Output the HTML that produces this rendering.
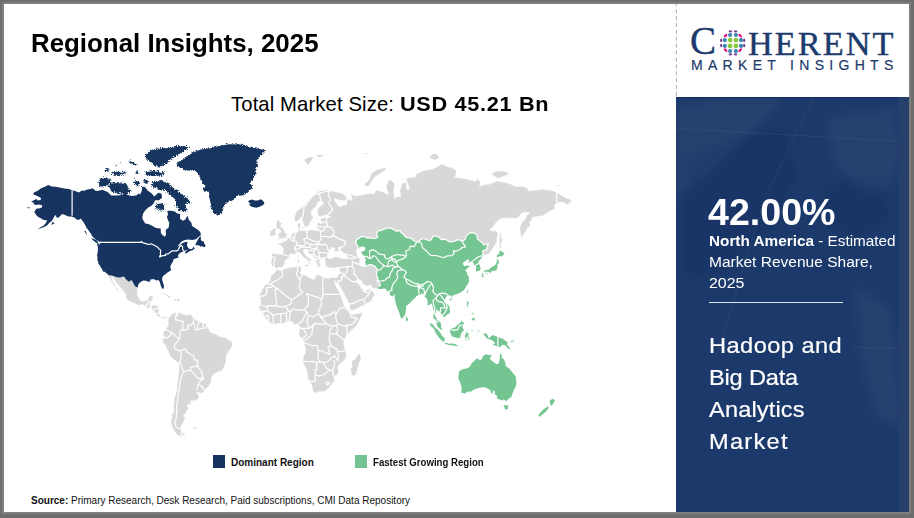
<!DOCTYPE html>
<html><head><meta charset="utf-8">
<style>
html,body{margin:0;padding:0;}
body{width:914px;height:518px;overflow:hidden;background:#6d6d6d;position:relative;font-family:"Liberation Sans",sans-serif;}
.abs{position:absolute;white-space:nowrap;}
#frame{position:absolute;left:2px;top:2px;width:909px;height:512px;background:#7f7f7f;}
#content{position:absolute;left:4px;top:4px;width:905px;height:508px;background:#fff;overflow:hidden;}
#dash{position:absolute;left:672px;top:0;width:0;height:93px;border-left:1px dashed #b0b0b0;}
#panel{position:absolute;left:672px;top:93px;width:233px;height:415px;background:#1b396a;overflow:hidden;}
#strip{position:absolute;left:223px;top:0;width:10px;height:415px;background:#263f6b;}
.t{position:absolute;white-space:nowrap;transform-origin:0 0;}
</style></head>
<body>
<div id="frame"></div>
<div id="content">
  <svg width="3" height="93" style="position:absolute;left:671px;top:0"><line x1="1.4" y1="0" x2="1.4" y2="93" stroke="#b4b4b4" stroke-width="1.1" stroke-dasharray="4 2.9" stroke-dashoffset="1.7"/></svg>
  <div id="panel">
    <svg width="233" height="415" style="position:absolute;left:0;top:0">
      <defs><filter id="pb" x="-20%" y="-20%" width="140%" height="140%"><feGaussianBlur stdDeviation="4"/></filter></defs>
      <g fill="#ffffff" fill-opacity="0.04" filter="url(#pb)">
        <path d="M0 10 L50 0 L110 0 L70 40 L30 80 L0 100Z"/>
        <path d="M150 20 L220 10 L225 60 L215 90 L190 95 L160 70Z"/>
        <path d="M180 190 L215 210 L222 270 L225 330 L200 320 L185 260Z"/>
      </g>
      <g fill="#000a30" fill-opacity="0.08" filter="url(#pb)">
        <path d="M10 60 L60 40 L110 30 L120 80 L95 130 L50 170 L10 185Z"/>
        <path d="M150 90 L200 80 L215 120 L180 140 L150 125Z"/>
      </g>
      <g stroke="#ffffff" stroke-opacity="0.06" stroke-width="1" fill="none">
        <path d="M0 31.4 L233 44.9"/>
        <path d="M138 0 L89 100 L40 260"/>
        <path d="M176 250 L233 252"/>
      </g>
      <rect x="0" y="0" width="233" height="1" fill="#102a5a"/>
    </svg>
    <div id="strip"></div>
  </div>
</div>
<svg width="914" height="518" viewBox="0 0 914 518" style="position:absolute;left:0;top:0">
<path fill="#d8d8d8" stroke="#fff" stroke-width="0.7" d="M276.5 268.7L275.5 267.8L273.8 266.4L271.6 266.8L271.7 264.5L270.7 263.3L271.4 260.9L271.9 257.9L271.6 255.9L271.0 254.9L272.9 253.5L275.9 253.7L279.0 254.1L282.3 254.1L283.0 251.8L283.2 248.7L281.7 246.3L279.7 245.1L277.9 244.4L278.1 243.1L280.5 242.7L282.6 242.9L282.1 240.7L283.2 240.8L283.3 241.4L285.3 241.2L285.8 240.3L287.4 239.6L287.4 238.1L288.8 237.6L290.4 237.0L291.0 235.8L292.1 233.6L293.3 232.7L295.6 232.4L297.1 232.0L298.1 231.3L298.4 229.9L298.0 227.6L297.2 225.2L298.0 223.7L301.0 222.3L300.6 225.2L300.1 227.6L300.3 229.9L301.6 231.1L303.9 230.1L306.1 231.3L308.4 230.6L310.7 229.4L312.9 229.7L314.6 230.1L316.9 227.1L316.7 225.2L317.6 222.8L319.1 222.2L320.5 224.0L321.4 224.0L321.8 221.6L320.5 220.3L320.3 218.6L322.3 217.9L325.0 217.6L327.3 217.9L330.6 216.9L328.8 216.1L326.5 215.3L323.5 215.8L319.7 216.9L318.2 215.3L317.3 212.8L317.5 209.4L319.0 207.3L322.0 204.6L323.5 203.5L322.0 201.3L319.0 201.3L317.2 204.0L316.0 206.7L313.7 208.3L311.9 210.7L311.1 214.1L311.9 215.3L313.2 216.6L312.9 218.4L311.4 220.3L310.1 222.8L309.5 225.4L306.9 226.4L306.1 227.8L304.5 227.6L304.2 225.9L303.0 222.5L301.9 219.6L301.2 216.9L300.1 219.1L298.6 220.1L297.1 221.6L294.8 221.1L294.1 219.1L294.7 216.1L295.6 213.6L296.8 211.0L299.9 208.9L303.0 206.5L306.0 202.9L309.0 199.1L312.5 195.9L316.0 192.4L320.0 190.7L325.0 189.8L331.1 190.4L336.0 191.8L341.9 193.0L345.4 195.6L347.2 198.5L345.4 200.2L342.4 200.7L337.9 199.9L334.8 198.8L334.1 200.2L337.1 203.5L337.9 205.4L340.9 206.7L342.4 204.9L346.2 204.9L346.9 201.3L348.4 199.3L351.4 199.9L352.2 200.7L350.7 193.6L352.2 194.2L354.5 195.6L357.5 195.6L365.0 194.2L367.3 193.6L371.1 193.6L374.1 193.9L376.4 189.8L381.6 191.2L386.2 193.6L388.4 194.5L386.9 189.2L385.9 186.7L387.7 181.4L389.9 179.8L391.5 180.5L394.5 183.0L394.9 186.1L393.7 190.7L394.5 198.5L396.7 196.5L400.5 196.5L399.8 190.7L402.0 183.0L406.6 182.1L406.6 189.2L409.6 189.2L405.8 178.2L416.4 176.6L415.6 173.9L423.9 170.5L433.0 168.8L442.5 163.8L446.6 166.3L452.6 167.7L456.4 170.5L455.6 176.6L454.1 177.2L463.2 178.2L470.7 179.8L475.3 181.4L477.5 178.5L480.5 182.1L479.8 186.1L484.3 184.6L488.9 184.3L494.9 181.7L497.9 180.8L503.9 182.1L511.5 184.3L515.3 186.4L522.1 186.1L526.6 187.6L528.9 190.7L534.1 190.1L538.7 189.8L542.5 188.9L546.2 189.8L550.8 190.1L554.5 191.2L556.8 192.4L559.8 194.2L565.1 197.4L568.9 198.8L572.4 200.5L569.6 202.7L567.4 204.9L564.4 202.9L560.6 202.1L556.8 203.5L554.5 204.9L555.3 208.9L552.3 210.2L547.7 212.5L543.2 215.8L538.7 216.6L534.1 217.1L531.9 217.9L531.9 220.3L529.6 222.1L530.4 225.7L528.1 227.6L526.6 229.9L524.3 233.4L521.6 237.9L520.6 234.5L519.8 229.9L520.0 226.4L522.1 222.1L525.8 218.4L526.6 215.3L529.6 212.8L526.6 212.3L522.1 212.8L519.0 216.6L517.5 218.4L513.8 218.6L510.0 217.9L504.7 218.4L500.2 219.1L497.2 221.6L494.1 225.2L491.9 228.7L489.6 229.7L492.6 231.1L495.6 230.6L497.9 232.2L498.2 234.5L497.2 237.9L497.0 242.3L494.9 245.5L492.6 249.1L489.6 253.2L485.8 255.3L483.6 254.9L482.4 256.3L480.8 258.9L478.3 261.3L479.0 263.9L480.4 266.8L480.4 269.7L479.8 270.5L477.5 271.2L475.9 271.6L476.0 269.7L476.3 266.8L475.3 265.5L474.1 264.9L473.3 263.3L472.7 261.1L470.7 261.5L468.8 262.7L468.0 263.3L469.1 260.9L469.5 259.9L467.7 259.3L465.4 261.1L463.2 262.5L462.7 263.9L463.9 265.5L465.0 266.4L467.0 265.6L470.0 266.0L468.5 267.2L466.7 268.7L465.1 270.7L466.7 272.0L467.6 275.2L469.1 276.9L468.6 278.5L469.2 280.4L468.5 282.8L467.0 285.0L465.7 287.3L464.4 289.5L461.7 291.8L459.4 293.0L457.1 293.9L454.9 294.8L452.6 295.5L451.6 297.3L450.6 295.3L448.8 295.2L446.6 296.2L445.8 297.6L444.6 299.9L446.0 302.7L448.4 304.9L449.6 307.5L450.0 310.9L449.6 313.0L447.3 314.5L446.1 315.5L443.7 317.6L443.2 315.9L442.8 314.5L441.3 314.2L440.4 312.5L439.2 311.1L437.4 310.6L436.8 309.2L436.0 309.6L435.8 311.8L434.8 314.7L435.2 316.6L436.5 318.3L436.9 320.0L438.3 320.6L439.3 321.6L440.5 322.8L441.1 325.0L441.1 327.4L442.3 329.7L441.3 329.9L439.8 328.7L438.0 327.2L437.1 325.5L436.5 323.0L436.5 321.1L435.4 319.4L433.6 318.6L433.4 316.4L433.7 314.4L434.0 311.8L433.3 309.2L432.5 305.8L432.1 303.5L430.4 303.9L428.9 305.3L427.4 304.9L427.8 301.8L427.2 299.7L426.2 298.0L424.7 296.6L423.9 295.3L423.6 293.7L421.8 293.4L420.6 294.6L419.4 294.8L417.9 295.2L416.2 296.2L415.6 297.6L413.4 299.2L411.8 300.9L409.6 303.2L408.1 304.4L406.1 306.1L406.1 309.2L405.5 312.6L405.0 314.7L403.5 316.9L402.0 318.4L400.5 316.9L399.8 314.4L398.9 311.8L397.6 308.4L396.4 305.3L395.5 302.3L394.9 299.4L394.8 296.2L394.5 293.9L393.7 295.3L392.2 296.6L389.9 294.8L389.2 293.7L390.7 292.9L388.9 291.6L386.9 291.1L386.2 289.5L385.4 288.4L382.4 288.8L379.4 288.9L377.9 288.8L374.8 288.4L372.6 288.0L371.5 287.7L370.8 285.5L369.9 285.1L368.1 286.1L366.5 286.2L364.3 284.8L362.5 283.7L361.7 281.9L360.5 279.8L359.0 279.3L357.9 280.0L357.3 280.9L358.1 282.8L359.3 285.1L360.8 287.0L361.4 289.1L362.3 287.1L362.9 288.8L362.8 290.2L364.3 290.5L366.5 290.5L368.8 288.8L370.0 286.8L370.2 289.1L370.8 290.5L372.6 291.6L374.1 293.0L375.3 293.6L374.5 295.7L373.3 297.3L372.3 298.3L372.1 299.9L370.5 301.5L368.5 302.7L366.5 303.4L363.8 305.4L360.5 306.6L358.2 308.4L355.2 309.4L352.9 310.4L350.7 310.6L350.2 309.2L349.6 306.6L349.5 304.1L348.1 302.3L346.6 298.8L344.6 296.2L343.9 293.6L342.4 290.9L341.2 288.8L339.8 286.4L338.2 283.7L337.7 280.9L336.9 283.1L336.6 284.1L335.6 282.8L334.2 280.2L334.5 281.9L335.7 285.0L337.1 288.2L338.8 291.1L340.7 294.4L341.3 297.1L343.0 301.1L343.9 304.9L344.9 306.5L346.6 307.7L348.9 310.3L350.4 312.3L352.2 314.5L354.5 314.2L357.2 313.3L359.7 313.0L362.3 312.0L362.2 314.4L361.7 316.1L360.5 318.6L359.0 322.0L357.5 324.5L355.2 327.4L352.9 329.1L350.7 330.9L348.4 333.4L346.9 335.5L345.6 337.2L344.5 340.0L343.6 343.1L344.3 345.6L344.9 349.0L346.2 351.6L346.3 356.7L345.4 359.3L341.6 362.4L338.6 365.4L337.7 367.1L338.3 369.8L338.6 372.4L337.9 374.2L334.8 376.0L334.5 377.8L334.1 381.4L332.3 383.3L330.3 386.4L328.0 388.8L325.8 390.7L323.5 391.6L320.5 391.5L318.2 392.0L315.2 393.2L313.4 392.0L312.8 391.3L312.5 388.8L311.4 385.1L309.9 381.6L308.1 378.7L307.3 375.1L306.9 371.2L305.4 368.0L303.4 363.6L302.8 361.5L303.0 358.4L303.9 355.0L305.5 352.4L305.1 348.1L304.3 344.8L303.4 342.2L303.1 340.5L301.8 338.7L299.8 336.3L298.6 333.8L299.3 331.3L299.5 328.7L299.8 326.7L298.6 325.4L297.8 324.3L295.6 324.7L294.1 324.9L292.6 322.8L291.5 321.5L289.5 321.3L287.3 321.8L285.0 322.7L282.7 323.7L281.2 324.0L279.0 323.3L276.7 323.7L273.7 324.7L271.4 323.7L269.1 321.5L267.6 320.3L265.7 318.9L264.9 316.9L263.1 314.7L262.4 313.5L260.4 311.8L259.6 309.2L258.6 307.2L259.6 305.3L260.4 303.2L260.7 300.6L260.1 298.3L259.2 296.4L260.1 293.6L261.1 291.3L262.7 289.1L263.4 287.0L265.1 284.4L267.6 283.1L269.9 281.3L270.4 279.1L270.2 277.2L271.4 275.4L273.7 273.3L275.2 272.0L276.1 269.1L277.4 269.7L279.7 270.3L282.0 270.5L283.5 269.3L285.8 268.4L288.0 267.6L290.3 267.2L293.3 267.2L296.3 266.8L298.6 266.4L300.4 266.2L301.6 266.8L300.9 268.2L301.6 269.7L300.6 271.6L300.1 272.9L301.9 274.1L303.9 274.8L308.0 275.8L308.4 277.2L311.4 278.2L313.7 279.5L315.2 278.4L315.2 276.3L317.5 274.6L319.7 275.2L322.0 276.3L323.1 277.1L325.8 277.6L328.8 278.4L331.1 277.2L333.8 277.6L336.6 277.6L337.1 277.1L337.9 274.8L338.6 272.7L339.2 270.7L339.1 268.2L339.7 267.6L338.6 267.6L337.1 267.2L334.8 268.5L333.3 267.8L331.1 268.2L328.8 267.6L326.5 266.8L325.0 264.3L325.5 261.9L324.6 260.9L324.4 259.7L324.3 259.3L322.8 259.1L320.9 259.5L319.4 259.9L320.2 261.3L319.4 262.9L320.5 263.9L321.2 264.9L319.7 265.8L319.7 267.8L318.7 267.8L317.8 267.2L317.0 265.3L317.5 264.1L316.4 263.1L315.5 261.7L314.3 260.1L314.4 257.9L313.1 256.1L311.4 254.9L309.2 253.9L308.0 252.2L306.9 250.3L305.5 250.6L305.7 249.3L303.7 249.7L303.6 251.6L304.6 253.2L306.1 255.7L308.0 257.1L309.2 258.1L311.4 259.3L312.9 260.7L312.0 260.9L310.5 260.1L310.1 261.7L310.8 262.9L309.6 264.5L308.7 265.1L308.9 263.3L308.6 260.9L307.3 259.9L306.1 259.1L304.3 258.1L302.7 256.5L301.6 255.5L300.7 253.9L299.3 252.6L298.0 252.0L296.3 253.2L294.8 254.7L292.6 254.1L291.0 253.9L289.8 254.7L289.8 256.9L288.0 258.5L286.2 259.5L285.0 261.3L284.5 262.3L285.3 263.5L283.9 265.6L282.6 266.8L281.7 267.4L278.2 267.4ZM168.1 317.4L169.5 317.1L170.8 315.2L171.4 313.7L173.0 313.2L174.3 313.0L176.0 312.0L177.3 311.1L177.0 313.5L176.9 314.4L176.3 315.5L177.8 316.4L177.6 313.8L179.3 312.5L180.5 312.8L181.9 313.7L183.8 314.2L186.8 315.0L188.1 314.2L190.6 314.2L191.5 314.9L193.2 317.6L194.7 318.1L196.7 320.3L198.5 322.0L200.6 322.2L203.5 322.7L205.3 323.3L207.1 325.0L208.0 327.9L209.5 329.2L209.7 331.6L211.8 332.9L213.3 333.1L217.1 334.6L218.6 336.3L221.6 336.8L225.4 337.2L228.4 339.7L231.4 341.0L232.2 343.1L232.5 345.6L231.4 348.1L229.9 349.8L228.4 352.4L226.9 354.1L226.1 356.7L226.1 361.9L224.9 365.4L223.8 368.0L222.3 370.6L219.3 371.5L217.1 372.4L214.0 374.2L211.8 376.9L211.5 381.4L209.5 385.1L207.2 387.9L205.0 390.7L203.2 392.8L200.4 393.4L198.6 392.6L196.8 392.2L198.5 394.7L199.4 396.0L198.0 399.3L195.2 400.7L190.9 400.9L191.1 404.3L187.0 404.9L189.0 408.7L186.8 410.3L186.1 413.4L183.1 415.5L185.6 417.9L183.1 423.0L181.6 425.2L180.8 427.7L181.7 429.3L181.9 430.8L182.8 432.7L184.9 434.3L186.7 434.8L184.6 435.5L181.6 435.5L183.4 437.6L179.3 435.9L176.3 434.3L173.3 429.7L171.0 424.1L171.0 419.8L172.5 416.6L171.0 415.5L173.6 412.4L174.0 408.3L173.4 406.3L174.0 402.3L174.0 398.4L175.5 394.5L176.9 389.8L177.0 384.2L177.3 380.5L178.4 376.0L178.8 371.5L179.1 367.1L178.8 363.4L177.0 361.9L174.0 359.8L171.0 357.6L169.8 355.0L168.7 352.4L166.5 348.1L165.0 344.8L162.7 342.2L162.2 340.0L163.7 337.8L164.5 336.3L162.8 335.8L163.4 332.9L164.2 330.8L165.9 329.7L166.5 327.9L168.0 325.7L168.3 322.8L168.0 321.1L167.4 320.0Z"/>
<path fill="#d8d8d8" stroke="#fff" stroke-width="0.8" d="M108.2 275.3L111.7 275.4L117.4 277.6L121.6 277.5L121.6 276.7L124.2 276.7L125.7 278.9L127.2 280.6L129.2 281.9L130.2 280.4L131.9 280.4L133.5 283.7L135.2 286.4L137.9 287.4L137.6 290.0L137.3 293.6L137.9 295.7L139.3 298.3L140.3 300.1L142.3 301.1L145.3 300.4L147.1 300.2L148.3 298.3L148.6 296.2L151.4 295.3L153.6 295.3L152.9 297.6L152.4 300.6L151.7 302.3L151.2 305.1L152.9 305.3L155.9 305.1L158.2 305.8L159.4 306.6L158.9 309.2L158.8 312.6L159.7 315.2L161.9 317.2L164.2 316.4L166.5 316.2L168.1 317.4L167.5 319.4L166.8 318.1L165.0 317.4L163.7 319.4L161.9 318.6L160.0 318.3L158.8 316.9L156.7 315.4L155.6 313.7L153.9 311.5L152.6 310.1L150.6 309.4L148.3 308.5L146.4 307.9L144.6 305.8L142.3 304.6L139.3 305.4L136.3 304.4L132.5 302.7L128.7 300.9L126.1 298.8L125.5 297.1L126.0 295.3L125.2 293.6L124.2 292.3L121.9 289.1L120.0 288.0L118.9 285.5L117.4 283.9L115.6 282.0L114.4 280.0L112.0 276.9L112.1 279.1L113.6 281.9L114.7 284.1L116.2 286.4L117.8 289.5L118.9 291.3L119.7 292.5L118.6 292.1L116.6 290.2L115.6 289.1L115.6 286.8L113.6 285.5L112.1 283.7L112.6 282.2L110.6 280.4L109.4 278.4L108.6 276.7ZM276.4 239.9L279.0 239.2L281.2 238.8L283.5 238.3L286.2 238.1L287.1 237.4L286.2 236.5L287.6 234.3L286.8 233.6L285.5 233.4L285.2 232.0L284.2 229.9L282.7 228.3L282.0 226.9L280.5 226.4L281.2 225.2L282.3 222.8L279.7 222.3L280.5 220.1L277.4 220.1L276.2 222.1L276.5 224.0L275.6 225.7L276.7 227.6L277.4 229.2L279.7 229.0L280.5 230.4L280.5 232.7L278.2 232.7L278.1 233.8L278.8 234.9L277.1 236.1L279.7 237.0L278.7 237.4L276.7 239.4ZM275.9 235.2L275.6 232.2L275.9 229.9L276.7 229.2L275.6 228.3L273.7 228.3L272.2 229.9L269.9 230.6L270.2 232.7L269.4 235.6L270.7 236.5L272.9 236.1ZM303.7 264.7L308.6 264.3L307.8 267.4L303.9 265.6ZM297.4 258.7L299.5 258.9L299.5 262.5L297.7 263.1ZM298.0 255.1L299.3 255.1L299.0 258.1L298.0 257.1ZM320.5 270.1L324.7 270.3L324.6 270.7L320.6 270.5ZM333.8 270.7L337.2 269.3L336.2 271.0L334.1 271.2ZM300.1 227.6L301.3 227.3L303.9 226.4L303.6 228.7L301.6 228.3ZM499.4 248.7L501.7 247.6L500.9 242.3L503.2 242.3L501.2 236.7L501.4 233.4L500.5 230.4L499.7 234.5L499.0 240.1L499.4 245.5L499.1 248.7ZM359.4 352.4L361.3 358.4L360.2 361.0L358.2 367.1L356.3 374.7L353.3 376.0L351.4 374.2L350.4 369.8L351.9 366.2L351.4 361.0L355.2 358.9L357.5 355.0ZM192.4 426.8L197.7 427.2L195.9 429.3L193.6 428.6ZM505.5 253.7L509.2 250.1L507.0 251.0Z"/>
<path fill="#d8d8d8" stroke="#fff" stroke-width="1.1" d="M156.8 294.6L158.9 294.1L161.2 292.5L163.4 292.7L165.7 293.7L168.0 294.8L170.2 296.0L173.0 297.6L171.0 298.1L168.0 298.1L167.2 296.7L164.2 294.8L161.5 294.1L158.9 294.8ZM172.7 300.8L175.1 298.1L177.8 298.1L180.8 299.4L181.9 300.6L179.3 301.1L177.0 302.2L174.8 301.3ZM166.8 300.8L169.8 301.5L169.0 301.8L166.8 301.1ZM183.5 300.6L185.9 300.9L185.5 301.6L183.5 301.5ZM167.2 285.9L168.7 286.4L168.0 289.1L166.9 288.8ZM303.1 159.8L309.2 156.4L314.4 156.8L311.4 161.7L308.4 165.6L306.1 163.1ZM314.4 154.9L321.2 154.1L325.8 155.3L319.0 157.9ZM363.5 184.6L368.8 179.8L371.1 173.2L377.1 169.1L388.4 166.7L384.7 170.9L375.6 176.6L371.1 183.0L368.1 187.3ZM360.5 154.1L366.5 152.6L372.6 151.8L368.1 154.5ZM428.4 157.9L432.2 153.7L436.0 152.9L439.8 157.2L436.0 160.5ZM490.4 173.9L497.9 178.9L510.0 173.9L505.5 171.2L496.4 170.5ZM554.5 185.5L558.3 184.3L562.1 185.5L557.6 186.4Z"/>
<path fill="#74c592" d="M358.4 247.4L356.0 243.3L356.3 241.6L355.7 241.4L356.7 239.2L358.5 238.8L361.3 236.5L364.3 236.7L368.1 238.3L370.3 237.6L373.3 238.5L375.6 238.3L377.9 237.2L376.4 234.7L377.1 233.4L377.9 231.1L383.1 229.7L388.4 227.8L392.2 228.7L396.0 231.1L400.5 230.6L401.0 232.2L402.8 233.8L405.8 237.2L408.8 237.9L411.1 238.1L414.1 241.0L416.8 242.0L417.6 241.8L419.4 241.0L420.9 239.4L423.9 238.5L427.7 240.1L430.7 240.3L433.0 236.7L433.7 235.6L436.0 236.3L439.0 237.2L441.3 239.6L444.3 239.2L447.3 240.3L448.8 241.6L451.9 241.8L454.9 241.0L457.9 239.6L460.2 240.1L461.2 240.5L463.0 241.0L465.0 239.4L466.2 236.5L467.7 234.5L470.0 232.7L473.8 232.9L476.8 234.5L477.5 239.0L480.5 241.4L482.4 242.5L483.6 244.9L485.8 244.2L488.4 243.8L487.3 246.1L486.6 249.7L484.0 250.3L482.8 251.2L483.1 253.9L482.2 255.3L482.4 256.3L480.8 258.9L478.3 261.3L479.0 263.9L480.4 266.8L480.4 269.7L479.8 270.5L477.5 271.2L475.9 271.6L476.0 269.7L476.3 266.8L475.3 265.5L474.1 264.9L473.3 263.3L472.7 261.1L470.7 261.5L468.8 262.7L468.0 263.3L469.1 260.9L469.5 259.9L467.7 259.3L465.4 261.1L463.2 262.5L462.7 263.9L463.9 265.5L465.0 266.4L467.0 265.6L470.0 266.0L468.5 267.2L466.7 268.7L465.1 270.7L466.7 272.0L467.6 275.2L469.1 276.9L468.6 278.5L469.2 280.4L468.5 282.8L467.0 285.0L465.7 287.3L464.4 289.5L461.7 291.8L459.4 293.0L457.1 293.9L454.9 294.8L452.6 295.5L451.6 297.3L450.6 295.3L448.8 295.2L446.6 296.2L445.8 297.6L444.6 299.9L446.0 302.7L448.4 304.9L449.6 307.5L450.0 310.9L449.6 313.0L447.3 314.5L446.1 315.5L443.7 317.6L443.2 315.9L442.8 314.5L441.3 314.2L440.4 312.5L439.2 311.1L437.4 310.6L436.8 309.2L436.0 309.6L435.8 311.8L434.8 314.7L435.2 316.6L436.5 318.3L436.9 320.0L438.3 320.6L439.3 321.6L440.5 322.8L441.1 325.0L441.1 327.4L442.3 329.7L441.3 329.9L439.8 328.7L438.0 327.2L437.1 325.5L436.5 323.0L436.5 321.1L435.4 319.4L433.6 318.6L433.4 316.4L433.7 314.4L434.0 311.8L433.3 309.2L432.5 305.8L432.1 303.5L430.4 303.9L428.9 305.3L427.4 304.9L427.8 301.8L427.2 299.7L426.2 298.0L424.7 296.6L423.9 295.3L423.6 293.7L421.8 293.4L420.6 294.6L419.4 294.8L417.9 295.2L416.2 296.2L415.6 297.6L413.4 299.2L411.8 300.9L409.6 303.2L408.1 304.4L406.1 306.1L406.1 309.2L405.5 312.6L405.0 314.7L403.5 316.9L402.0 318.4L400.5 316.9L399.8 314.4L398.9 311.8L397.6 308.4L396.4 305.3L395.5 302.3L394.9 299.4L394.8 296.2L394.5 293.9L393.7 295.3L392.2 296.6L389.9 294.8L389.2 293.7L390.7 292.9L388.9 291.6L386.9 291.1L386.2 289.5L385.4 288.4L382.4 288.8L379.4 288.9L377.9 288.8L378.6 286.8L380.4 285.1L379.8 283.3L377.9 281.9L377.0 280.2L378.3 278.2L377.0 277.2L376.5 273.5L377.0 271.8L377.4 269.5L376.2 267.8L374.4 266.0L371.5 264.7L368.8 264.9L366.5 266.0L365.9 266.2L364.4 261.9L365.6 259.5L364.1 258.5L364.0 255.9L361.9 254.5L360.3 251.8L362.2 250.8L364.7 249.9L364.4 247.6L362.0 247.4L359.0 248.3ZM552.6 398.7L555.0 400.3L553.5 403.1L551.8 406.1L550.3 404.5L549.6 400.7ZM548.9 406.5L547.7 409.5L545.5 412.0L542.0 415.1L539.1 417.0L538.5 414.9L540.8 412.0L544.0 408.9L546.8 406.9Z"/>
<path fill="#74c592" stroke="#fff" stroke-width="0.9" d="M496.4 257.9L498.2 257.3L500.2 256.5L501.4 256.9L504.7 254.5L503.9 252.4L499.4 249.7L498.7 253.9L497.2 254.5L496.2 255.9ZM497.9 258.5L499.1 260.9L499.4 262.9L497.9 264.3L497.9 266.8L497.6 268.7L496.4 270.7L494.9 271.2L491.9 271.4L490.4 273.5L488.9 272.6L486.6 272.0L484.3 272.7L482.8 272.2L485.1 269.7L488.9 269.3L491.1 267.2L492.3 266.0L494.1 265.8L495.6 263.9L496.4 260.9L496.7 258.7ZM481.3 272.9L482.8 272.7L484.0 275.4L483.3 277.6L482.1 278.2L481.6 275.4ZM485.1 273.5L488.1 272.2L488.4 273.5L485.8 274.8ZM466.4 292.7L467.7 289.1L469.2 289.1L468.5 291.8L467.4 294.6ZM449.0 299.4L451.1 297.8L452.6 298.7L451.1 301.1L449.1 300.6ZM405.5 315.9L406.3 315.5L408.7 319.4L407.6 321.6L406.0 322.0L405.5 318.6ZM466.8 300.9L469.2 300.9L468.9 303.5L468.2 306.1L468.9 307.9L467.4 307.5L466.5 304.9ZM470.7 319.3L473.4 317.4L475.3 317.2L475.0 320.6L473.1 321.0ZM471.0 313.0L473.4 312.6L473.8 314.4L471.9 314.9ZM462.3 317.8L465.0 314.2L465.3 314.9L462.7 318.1ZM449.6 329.6L450.3 328.7L452.6 327.7L455.6 326.7L457.1 324.5L459.4 323.2L461.7 320.5L465.0 323.2L463.2 324.5L462.9 327.0L464.4 330.4L462.4 332.1L460.9 335.5L460.9 338.0L457.9 338.5L454.9 337.7L452.6 337.2L451.1 335.5L449.9 332.9ZM428.9 322.7L432.2 323.3L436.0 327.9L438.3 329.6L441.3 333.8L442.8 336.3L445.1 337.5L444.8 341.9L442.8 342.0L439.8 339.2L437.5 336.3L435.2 332.9L433.7 329.1L430.0 325.7ZM443.9 343.6L445.8 342.2L448.8 343.2L452.6 343.1L455.3 343.7L457.9 345.1L457.6 346.8L452.6 345.9L448.1 345.3L444.3 343.9ZM459.0 346.3L463.2 346.3L463.2 347.0L459.3 347.0ZM473.0 348.0L476.8 346.4L473.8 348.7ZM465.4 341.4L467.0 341.5L466.8 336.8L468.5 340.2L470.3 340.2L468.2 335.3L471.0 333.8L468.5 333.6L466.5 331.1L473.0 329.6L474.1 329.4L472.2 331.3L467.4 329.9L465.9 332.1L464.5 336.3L465.3 338.8ZM477.5 329.1L479.3 330.4L478.3 333.4L477.5 331.3ZM478.3 337.5L482.5 338.0L481.3 338.7L478.6 338.5ZM482.8 334.1L485.1 332.8L487.3 333.6L488.9 337.7L492.6 334.6L497.9 336.5L503.2 338.5L505.5 340.5L508.2 342.2L507.7 344.8L511.5 349.5L507.7 349.0L505.5 345.9L502.4 345.1L500.9 347.3L497.9 347.6L494.9 345.8L493.4 346.3L492.6 343.9L494.4 343.6L493.4 341.4L489.6 339.7L486.6 338.8L485.1 336.8L483.3 334.6ZM509.2 341.4L512.3 340.5L514.5 339.2L513.8 341.9L510.7 342.6ZM500.6 352.4L502.1 355.4L502.3 357.8L504.7 359.5L505.8 363.6L506.2 366.1L509.9 368.6L512.4 372.0L516.0 376.2L516.9 382.4L516.0 386.7L513.8 391.1L511.6 397.5L508.7 399.0L506.4 401.5L503.6 400.0L502.1 400.9L498.4 399.6L496.7 398.5L496.2 395.3L494.0 395.0L494.5 393.0L493.7 390.6L493.3 393.7L490.8 393.5L489.9 390.2L488.2 389.3L484.5 387.6L480.8 387.9L476.4 389.0L473.5 390.2L471.3 391.9L466.9 392.4L464.5 394.0L460.3 392.6L461.0 391.1L461.3 388.1L460.3 384.0L458.8 380.5L457.8 378.3L458.1 375.4L458.5 372.8L458.8 370.8L462.5 368.9L465.4 368.3L469.1 366.9L470.9 364.4L471.3 362.3L473.5 361.6L475.0 359.5L477.2 357.8L479.4 359.5L481.6 359.1L482.0 357.0L483.0 355.4L486.0 353.7L488.2 354.5L490.4 354.5L492.3 354.9L491.1 357.0L490.4 359.0L491.8 360.3L494.0 361.9L496.2 363.6L498.1 363.4L499.2 360.3L499.3 356.2L499.9 353.7ZM503.3 404.7L508.9 405.1L508.5 408.3L507.0 410.3L504.7 409.3L503.5 406.3Z"/>
<defs><filter id="jag" x="-5%" y="-5%" width="110%" height="110%"><feTurbulence type="turbulence" baseFrequency="0.5" numOctaves="2" seed="7" result="n"/><feDisplacementMap in="SourceGraphic" in2="n" scale="4" xChannelSelector="R" yChannelSelector="G"/></filter></defs>
<defs><filter id="jag2" x="-5%" y="-5%" width="110%" height="110%"><feTurbulence type="turbulence" baseFrequency="0.6" numOctaves="2" seed="11" result="n"/><feDisplacementMap in="SourceGraphic" in2="n" scale="2.6" xChannelSelector="R" yChannelSelector="G"/></filter></defs>
<path fill="#16345f" d="M31.2 201.8L33.6 200.2L36.6 199.1L37.8 200.5L40.7 199.9L41.0 197.9L37.8 196.2L33.1 194.2L34.0 192.4L38.1 190.4L41.1 188.2L44.9 186.7L48.2 184.9L51.7 186.4L55.5 186.7L59.3 187.6L64.5 188.5L69.1 188.9L72.1 190.2L75.9 191.2L78.9 192.4L81.9 190.4L84.2 190.7L87.2 189.5L90.2 188.9L92.5 188.2L95.5 190.7L98.1 190.9L102.3 189.8L107.6 192.1L111.3 195.6L115.9 195.6L120.4 195.3L122.7 194.5L124.2 193.6L127.2 194.8L131.7 195.9L136.3 195.6L138.5 193.6L140.0 194.5L141.6 191.5L143.1 186.7L145.3 187.6L147.6 190.4L151.4 193.3L154.4 196.5L155.9 195.1L158.2 192.7L161.2 193.6L161.9 195.6L161.9 197.9L158.9 200.2L155.1 200.2L153.6 203.5L151.4 205.7L148.3 207.5L145.3 210.2L143.1 213.6L142.2 217.9L142.8 219.6L145.3 223.5L148.3 224.0L152.1 225.7L155.9 228.0L160.7 228.5L160.9 232.9L162.7 235.2L165.0 236.7L166.0 234.5L165.7 229.9L168.7 227.6L169.3 222.8L168.0 220.3L166.9 217.1L168.0 214.6L167.2 210.7L171.0 210.7L174.8 211.5L177.0 213.6L180.1 214.1L180.1 219.1L183.1 220.8L185.3 219.6L187.3 215.8L189.1 220.3L191.4 222.8L192.1 225.9L195.2 228.0L198.2 229.9L200.4 232.2L200.9 235.2L198.6 236.7L195.9 239.2L192.1 239.9L188.4 239.4L184.6 239.9L181.6 241.6L178.5 244.9L177.5 246.8L180.1 244.9L183.1 242.7L186.1 241.8L187.9 242.7L186.8 244.4L187.6 246.8L188.4 248.3L189.9 249.1L192.1 248.9L193.6 246.6L194.7 248.7L192.9 250.1L189.1 251.6L185.6 253.7L185.0 251.8L187.6 250.1L185.3 250.3L183.8 251.2L181.1 252.2L179.0 253.7L178.1 255.3L178.4 257.7L177.0 258.1L174.0 258.9L173.3 259.9L173.1 261.5L171.8 263.3L171.0 264.9L170.2 266.8L170.8 268.9L171.0 270.3L169.5 271.2L167.5 272.6L165.7 274.1L163.4 275.8L162.4 277.2L162.1 279.7L163.0 282.6L164.0 285.9L163.7 288.4L162.8 288.9L161.6 287.5L160.7 285.5L160.1 282.8L159.7 281.7L158.2 280.0L155.9 280.4L154.4 279.3L152.1 279.3L149.9 279.7L150.3 281.5L148.3 281.7L146.1 280.8L143.4 280.6L141.6 281.5L139.3 283.1L138.1 285.0L137.9 287.4L135.2 286.4L133.5 283.7L131.9 280.4L130.2 280.4L129.2 281.9L127.2 280.6L125.7 278.9L124.2 276.7L121.6 276.7L121.6 277.5L117.4 277.6L111.7 275.4L108.2 275.3L107.9 274.3L106.2 272.9L104.6 271.8L102.9 271.4L102.4 269.7L100.9 267.6L100.0 265.8L99.4 264.9L98.2 262.9L98.1 261.3L97.3 260.1L97.6 257.9L97.0 255.3L97.8 251.8L97.9 248.3L97.6 245.9L96.7 243.6L99.0 244.0L100.0 245.5L99.6 242.3L98.8 241.2L96.6 240.1L94.0 237.9L92.0 236.1L91.0 233.8L89.5 231.8L87.9 229.4L86.4 227.6L84.9 224.5L82.7 221.1L80.4 218.6L78.9 220.1L76.6 219.4L74.4 217.6L71.3 216.6L68.3 216.6L64.5 214.8L62.3 214.1L60.8 215.3L59.3 217.1L57.0 217.9L55.6 215.3L57.7 213.6L54.7 215.8L53.2 218.6L51.7 221.1L49.4 222.8L47.2 225.2L44.2 227.1L41.1 228.0L38.1 229.4L40.4 227.3L43.4 225.7L45.7 223.3L47.2 220.3L44.9 220.3L42.6 219.6L40.4 217.9L38.1 216.9L36.2 215.1L35.2 213.6L34.3 212.0L35.5 209.9L36.6 208.6L38.9 208.6L41.9 207.5L42.2 205.4L41.1 204.9L38.9 204.6L35.8 204.9L33.6 204.0L33.9 202.7ZM195.5 245.3L198.9 245.3L200.6 246.8L201.9 246.1L204.1 247.2L205.4 246.6L205.4 244.9L204.2 243.6L203.9 241.6L201.6 241.0L200.7 239.0L201.2 236.5L199.2 237.2L198.2 239.0L197.1 241.2L195.9 243.3ZM98.7 243.8L96.2 242.7L93.2 240.5L91.1 238.3L93.2 238.8L96.2 240.1L97.9 241.8ZM87.2 235.6L84.2 231.1L85.7 231.1ZM54.7 223.3L51.3 224.9L52.5 221.8ZM26.0 208.1L30.3 208.3L29.1 207.3ZM251.8 206.7L256.3 207.8L260.8 206.2L263.1 204.9L264.5 203.2L263.0 200.7L260.8 199.3L257.8 200.5L254.8 200.5L251.8 199.6L249.1 200.5L248.0 202.1L251.0 203.5L248.8 204.0L250.7 206.2Z"/>
<path fill="#16345f" filter="url(#jag2)" d="M217.4 214.6L214.0 213.0L211.8 210.2L210.6 207.5L209.8 202.9L209.0 199.3L208.0 195.6L208.7 192.7L208.0 190.7L203.5 190.4L202.7 187.0L205.7 185.5L201.2 183.0L201.2 180.5L198.2 174.9L196.7 171.5L191.4 169.5L184.6 169.8L177.0 165.6L176.3 162.4L183.1 157.9L192.0 151.4L200.0 148.6L208.6 147.4L218.6 144.9L228.1 143.2L239.7 143.6L249.5 146.5L257.8 147.8L265.4 149.4L261.6 153.3L258.6 156.0L256.3 160.9L257.1 165.3L254.8 169.8L255.6 173.2L253.3 175.6L251.8 179.8L248.8 181.4L251.8 184.6L252.1 187.6L249.5 188.5L246.5 192.1L242.0 194.5L236.7 194.8L233.7 197.9L229.9 200.2L227.0 201.0L224.6 203.5L222.5 207.0L221.0 212.5Z"/>
<g filter="url(#jag)"><path fill="#16345f" d="M150.6 180.2L160.2 178.9L168.0 182.0L171.5 186.3L180.1 192.4L187.1 197.6L189.7 201.0L185.3 201.9L183.6 203.6L186.2 208.9L181.9 210.6L176.7 208.0L174.1 202.8L174.9 199.3L169.7 194.1L163.6 188.9L157.6 188.0L151.5 186.3ZM163.4 207.5L159.7 209.7L155.1 207.3L154.4 204.9L156.7 202.1L159.7 201.3L162.7 203.5ZM96.9 181.8L98.9 177.0L104.6 176.0L109.5 178.0L107.5 180.9L105.6 183.3L100.8 185.7L97.4 184.7ZM107.5 181.8L114.3 180.9L122.0 181.8L123.9 180.9L127.8 188.6L129.7 189.5L126.8 192.4L119.1 192.4L110.4 190.5L107.5 186.6ZM110.4 172.2L114.3 169.8L120.1 170.7L124.9 171.7L123.0 173.6L116.2 174.1L111.4 173.6ZM102.2 169.3L105.6 166.9L108.5 167.8L106.6 169.3L103.7 170.2ZM113.5 164.8L115.5 163.8L115.0 165.2ZM117.5 161.9L119.2 161.2L118.6 162.6ZM127.8 159.2L131.0 160.5L135.5 163.0L134.5 163.8L130.0 162.0L127.5 160.2ZM133.6 170.0L136.0 169.3L137.4 171.5L135.5 173.1L133.8 172.0ZM132.6 180.0L135.0 178.9L138.4 180.5L137.2 183.0L138.0 184.7L134.5 184.0L133.0 182.5ZM141.3 178.5L144.5 178.0L147.1 179.5L145.5 181.8L142.5 181.5ZM140.5 186.0L143.5 185.7L145.1 188.0L143.0 190.5L140.8 189.0ZM143.2 170.4L150.0 169.3L155.0 169.8L163.2 171.5L160.0 174.8L152.0 174.1L145.8 174.5ZM142.9 154.5L148.7 148.7L157.4 147.2L169.0 145.8L180.6 144.3L189.0 145.5L181.0 150.5L172.0 156.0L166.0 161.0L161.0 165.0L156.0 165.5L151.0 162.5L146.5 158.8Z"/></g>
<path fill="#fff" d="M356.7 249.7L357.2 248.7L359.0 247.6L362.0 246.6L365.0 247.0L365.3 250.1L362.8 251.4L361.0 251.8L362.5 254.5L364.6 255.9L364.7 258.5L366.2 259.5L365.0 261.9L366.4 266.2L362.8 267.2L360.5 266.0L359.0 264.5L359.6 260.9L360.0 259.7L358.4 257.3L356.7 254.9L356.7 252.4L355.7 251.2ZM328.8 258.5L331.8 258.7L334.8 257.1L337.9 256.9L340.1 258.3L343.1 259.1L346.2 258.9L347.8 257.7L347.7 255.9L345.4 254.1L343.1 252.2L341.3 250.8L340.1 250.1L338.6 250.6L337.1 251.6L335.6 251.6L334.1 249.9L335.6 248.5L333.3 247.2L331.5 247.2L330.0 249.7L328.3 252.2L327.3 254.3L327.1 256.9L328.0 258.1ZM337.9 249.3L340.1 249.9L343.1 246.1L338.6 247.2Z"/>
<path fill="none" stroke="#fff" stroke-width="1.2" stroke-linejoin="round" d="M271.6 257.1L274.4 257.1L275.2 258.3L274.4 261.5L273.7 262.9L274.4 264.5L273.8 266.4M282.3 254.1L285.8 255.5L289.8 256.1M288.8 237.6L291.0 239.4L293.8 241.2L297.4 242.3L296.5 245.3L294.1 248.3L295.6 249.7L296.3 253.2M290.4 237.0L292.6 237.0L294.1 238.3M294.1 238.3L295.3 235.2L295.9 232.7M293.8 241.2L294.4 239.9L294.1 238.3M298.1 229.0L299.8 229.2M306.4 231.3L307.0 234.5L307.6 237.9L303.4 239.4L305.8 242.7L304.6 245.5L300.9 245.5L299.3 245.3L296.5 245.3M299.3 245.3L300.9 246.8L298.6 248.9L295.6 248.9L294.1 248.3M300.9 246.8L303.9 247.2L305.7 247.6L309.2 247.2L310.7 244.4L307.6 242.5L305.8 242.7M307.6 237.9L309.9 239.4L313.4 241.2L319.0 242.0M310.7 244.4L313.4 244.9L318.4 243.6L319.0 242.0M319.0 242.0L321.2 239.0L320.6 235.6L320.5 231.3L319.4 230.1L314.6 230.1M318.4 243.6L316.7 248.0L314.4 248.3L313.4 248.9L309.2 247.2M305.5 249.7L308.4 250.1L313.7 251.0L316.7 248.0M311.4 254.9L314.1 254.5L316.0 256.5L319.0 256.3L319.7 258.3L316.1 259.1L314.4 257.9M313.7 251.0L314.1 254.5M315.5 261.7L316.7 259.3L319.6 258.3L324.7 257.5L324.4 259.7M324.7 257.5L327.3 256.9M319.0 256.3L319.0 252.4L328.2 253.2M316.7 248.0L319.0 252.4M318.4 243.6L322.6 245.1L325.2 243.8L327.6 247.4L327.6 249.7L329.8 250.3M321.2 236.5L326.5 236.5L331.1 237.2L333.3 235.6L336.9 237.4L338.5 239.0L342.7 240.1L345.4 241.0L344.9 244.9L342.8 246.3M320.5 231.3L324.0 230.6L325.3 227.1L327.6 226.1L331.8 227.6L334.1 232.2L332.9 235.4L331.1 237.2M316.9 226.1L325.3 227.1M321.7 222.1L326.4 222.5M327.6 226.1L326.8 223.3L326.4 218.1M314.6 230.1L316.9 228.0L319.4 230.1M327.3 215.3L330.0 212.8L332.6 209.1L328.8 203.5L330.3 198.2L328.0 195.1L328.8 192.7L328.6 191.2L331.5 191.2M316.7 193.3L319.7 195.1L321.2 201.3M316.7 193.3L322.0 192.7L325.0 191.5L328.6 191.2M316.7 193.3L311.9 196.5L309.2 200.7L306.9 204.0L303.9 206.7L303.4 214.1L302.4 218.1M345.4 254.1L348.4 254.5L351.4 255.5L355.2 257.1L358.2 257.3M347.8 257.7L350.7 258.7L352.9 258.5L355.2 258.7M352.2 261.5L355.2 263.1L357.5 264.1L358.8 264.1M339.7 267.6L340.9 267.4L345.4 266.8L348.9 266.4L352.6 266.4L352.2 262.9L352.6 261.5M348.9 266.4L347.4 268.2L346.9 271.8L343.9 275.6L340.9 277.2L342.4 279.3L340.1 280.9L337.7 280.9M339.2 270.7L340.3 272.2L338.9 274.4L338.6 272.7M340.3 272.2L343.6 273.7L343.9 275.6M352.6 266.4L353.7 269.1L354.5 270.7L353.7 273.5L356.7 276.3L357.9 280.0M343.9 275.6L352.6 281.7L355.2 281.7L357.3 280.9M355.2 281.7L358.1 282.8M349.6 304.1L355.2 302.7L359.0 300.4L363.5 299.7L368.8 294.4L368.4 293.2L363.5 290.9M363.8 299.7L365.2 303.9M368.8 294.4L369.9 289.5M361.7 289.6L362.3 290.2M322.8 277.1L322.8 294.4L340.7 294.4M302.4 274.3L300.1 279.1L300.1 281.9L299.3 286.4L300.1 290.0L303.1 291.8M297.8 267.0L297.5 270.7L296.3 273.5L299.3 279.7M282.0 270.5L282.4 274.4L282.9 276.1L279.4 278.5L277.4 280.2L271.9 282.4L271.9 285.0M265.1 284.2L271.9 284.2M271.9 285.0L271.9 287.3L266.9 287.3L266.9 291.8L265.4 295.7L259.2 296.4M271.9 285.0L277.8 289.1L275.2 289.1L276.7 305.8L267.8 305.6L266.6 307.2M260.1 304.8L266.6 307.2M277.8 289.1L286.8 296.7L291.5 299.4L293.8 298.8L303.1 291.8M291.5 299.4L291.3 303.5L285.8 306.6L284.2 306.5L282.0 307.3L276.7 305.8M276.7 314.4L280.9 313.5L286.4 313.5L288.3 310.8L285.8 306.6M288.3 310.8L290.4 312.3L292.6 308.7L297.1 310.1L303.9 309.9L305.4 308.4L308.4 304.9L308.4 297.1L306.4 293.4M306.4 293.4L321.2 298.8L321.2 305.4L319.0 310.1L318.2 313.7M321.2 298.8L322.8 298.0L322.8 294.4M303.9 309.9L306.9 311.8L303.9 317.8L302.4 321.0L297.8 324.3M306.9 311.8L308.4 315.2L306.9 322.0L309.2 328.4M318.2 313.7L321.2 317.8L326.4 323.7L322.8 324.2L314.4 323.7L309.2 328.4M308.4 315.2L312.9 316.9L318.2 313.7M303.1 340.5L304.6 340.2L309.2 337.2L311.9 333.8L312.5 328.2L313.1 326.0L309.2 328.4M299.8 328.2L302.1 328.4L305.1 328.4L309.2 328.4M302.1 328.4L304.6 330.4L306.7 335.1L303.1 338.0L301.8 338.7M303.4 342.2L309.9 344.8L312.2 345.6L317.5 345.6L318.2 350.7L321.2 350.7M321.2 350.7L327.3 353.3L330.0 354.6L328.0 346.4L331.1 346.1L329.1 339.7L329.5 334.6L330.0 329.6L331.8 328.2L331.5 326.2L326.4 323.7M318.2 313.7L322.0 317.4L325.8 315.9L330.3 314.7L334.1 311.5L336.3 316.1M340.1 307.9L336.3 313.5L335.6 317.8L337.9 323.7M340.1 307.9L343.9 307.3L348.9 310.9M348.9 310.9L349.9 313.5L351.4 316.9L357.5 318.6L352.9 323.7L348.4 325.4L346.9 325.4L343.9 326.2L338.6 324.3L337.9 323.7M346.9 325.4L346.9 335.0M336.3 325.4L337.9 329.6L336.3 333.8L341.6 338.0L344.2 339.9M331.1 333.8L336.3 333.8M331.5 326.2L336.3 325.4L338.6 324.3M346.2 349.8L341.6 351.7L337.9 351.6L334.8 348.1L331.1 346.1M336.3 348.1L338.6 356.7L337.9 361.0L334.8 355.8M334.8 355.8L331.1 358.4L327.3 361.9L323.2 362.4L320.2 361.9L316.7 362.7L312.9 361.7L302.8 361.5M318.2 350.7L318.2 354.1L318.2 359.3L320.2 361.9M334.1 360.1L334.8 364.5L332.6 370.3L333.3 375.1L334.5 378.3M323.2 362.4L326.5 368.0L329.5 370.1L332.6 370.3M315.2 369.8L315.2 375.1L319.7 376.0L324.3 374.2L326.5 372.4L329.5 370.1M309.9 381.6L315.2 381.2L315.2 375.1M316.7 362.7L316.7 369.8L315.2 369.8M325.8 382.3L328.0 381.6L329.4 383.3L327.3 385.1L325.8 382.3M259.8 311.1L266.9 311.1L267.8 305.6M262.4 313.5L264.3 311.5M264.9 316.9L268.1 315.2L269.1 318.1L267.6 320.3M280.8 323.7L280.9 313.5M286.8 321.8L286.4 313.5M289.1 321.3L290.4 312.3M273.7 324.7L272.9 317.8L273.7 315.0M267.8 311.1L272.9 314.9L276.7 314.4L280.9 313.5M177.3 312.1L175.5 316.9L175.8 319.8L179.3 320.5L183.1 321.6L182.6 328.7L183.8 330.1M183.8 330.1L180.1 330.4L179.5 339.2M179.5 339.2L175.5 336.1L171.4 332.3M171.4 332.3L168.0 330.8L165.9 329.7M171.4 332.3L171.0 334.6L167.2 338.0L163.7 337.8M194.4 317.8L192.9 323.3L190.6 325.4L187.6 325.4L188.4 328.7L184.0 330.1M198.6 322.2L197.4 329.6L195.2 329.6L194.4 324.5L192.9 323.3M203.5 322.5L202.7 328.2L200.4 328.9L197.4 329.6M207.1 325.0L205.7 328.2L202.7 328.2M179.5 339.2L174.8 344.8L174.0 348.1L175.5 349.0L178.5 350.7L180.1 350.7M180.1 350.7L181.3 353.3L180.8 357.6L180.1 361.9L178.8 363.4M180.1 361.9L181.6 365.4L182.0 368.9L183.8 371.5M180.1 350.7L185.3 348.7L186.8 351.6L191.4 355.0L193.6 355.5L194.4 359.8L197.1 359.8L197.7 362.7L197.4 366.2M197.4 366.2L190.9 367.1L190.5 370.1L187.6 370.6L183.8 371.5M190.5 370.1L194.4 374.2L197.4 377.8L201.2 379.4L202.6 376.2M197.4 366.2L201.2 370.6L202.6 376.2M202.6 376.2L203.8 379.1L200.7 380.5L198.0 384.5L196.8 390.7M198.0 384.5L201.2 386.0L204.2 388.8L204.5 391.1M183.8 371.5L181.6 376.0L180.1 381.4L179.3 387.9L178.5 393.5L177.8 399.3L176.7 405.3L176.7 411.4L176.3 417.6L174.8 423.0L176.3 427.5L181.7 429.3M181.4 429.9L181.4 435.2M145.8 307.5L146.1 304.9L147.6 304.8L147.6 301.8L150.3 301.8L151.7 300.6M150.3 301.8L150.3 305.1M150.3 305.1L150.2 307.7L148.9 308.9M151.8 305.4L150.2 307.7L152.4 309.4M159.4 306.6L156.7 308.4L153.2 310.1M158.6 313.5L155.6 313.3M160.3 316.1L159.8 318.4M168.1 317.4L167.4 320.0M176.3 298.1L176.7 301.5M416.8 242.0L414.1 246.6L410.3 246.1L409.3 249.7L405.8 250.8L406.3 255.3L406.1 256.5M406.1 256.5L403.5 255.3L399.8 254.9L396.7 254.5L392.2 256.3M392.2 256.3L389.2 258.1L387.7 258.9L385.7 258.5L384.7 256.9L384.7 254.9L378.6 253.9L377.1 252.0L373.3 249.7L369.6 250.8L369.6 258.3L368.8 258.3L366.5 256.3L365.0 256.7L364.1 257.3M368.8 258.3L371.1 258.3L373.3 255.7L375.6 256.5L377.1 258.5L379.4 261.9L382.4 264.3L385.4 266.0M385.4 266.0L383.1 266.2L381.6 268.7L379.4 270.1L377.4 269.5M385.4 266.0L387.4 266.4L388.4 266.8L390.7 265.6L393.0 265.1L394.5 266.8L397.9 266.2L398.1 266.4M387.4 266.4L388.1 263.7L388.4 261.9L389.9 260.5L391.6 258.9L392.2 260.3L394.5 262.1L396.4 262.1L398.1 266.4M392.2 256.3L391.5 257.9L393.0 258.9L395.2 259.3L396.4 262.1M406.1 256.5L402.8 258.9L399.8 259.9L396.7 261.3L396.4 262.1M398.1 266.4L393.0 267.8L392.2 270.7L390.7 272.6L389.9 274.4L389.6 277.2L386.9 277.8L385.4 280.0L382.4 280.9L379.4 281.1L377.0 280.2M398.1 266.4L399.5 267.2L402.5 269.7L405.0 270.7L406.3 272.6L405.0 274.8L404.0 277.2L406.1 279.1M402.5 269.7L397.5 271.0L396.7 274.4L397.6 275.4L397.5 278.2L396.0 280.4L393.0 284.1L391.5 288.2L392.2 290.2L388.4 291.4M406.1 279.1L406.6 282.4L410.3 285.0L413.4 285.9L418.0 286.6L418.2 283.9L414.9 283.3L411.8 282.0L408.8 280.0L406.1 279.1M418.2 283.9L419.2 285.0L423.9 284.1L427.7 281.5L430.0 282.0L431.9 283.3M419.2 285.0L419.4 286.6L423.9 285.9M418.0 286.6L419.4 288.6L418.3 289.5L418.9 292.3L419.4 294.8M419.4 287.3L423.9 289.1L424.4 292.7L424.2 295.9M431.9 283.3L429.2 286.1L427.7 289.1L425.9 291.8L424.7 295.3M431.9 283.3L433.7 288.2L432.7 290.9L435.2 294.3L437.8 295.5M437.8 295.5L439.3 293.7L442.0 293.2L445.8 293.7L448.1 295.3M437.8 295.5L436.3 297.3L433.0 300.6L433.7 304.9L434.8 308.4L433.9 314.4M436.3 297.3L436.8 300.6L439.0 301.6L442.8 302.3L444.5 305.8L444.5 308.0M439.3 293.7L442.0 297.1L444.3 300.2L446.3 304.2L447.3 307.5M440.4 312.5L440.5 307.9L444.5 308.0L447.3 307.5L445.1 312.6L442.8 314.5M436.5 321.1L438.7 322.2M417.6 241.8L421.7 243.3L422.4 247.6L426.2 250.8L430.7 255.3L437.2 255.7L443.6 257.7L447.3 255.9L451.9 255.7L454.0 253.5L453.4 250.8L456.4 251.2L460.2 249.3L462.4 247.4L465.7 247.0L463.9 244.4L461.2 240.5M472.7 261.1L475.3 258.9L478.3 256.9L480.5 256.1L482.2 256.1M475.3 265.5L476.8 264.3L478.9 263.7M497.9 336.5L497.9 347.6M450.5 328.7L453.4 330.4L457.9 329.6L459.4 325.4L462.4 325.0M358.4 247.4L356.0 243.3L356.3 241.6L355.7 241.4L356.7 239.2L358.5 238.8L361.3 236.5L364.3 236.7L368.1 238.3L370.3 237.6L373.3 238.5L375.6 238.3L377.9 237.2L376.4 234.7L377.1 233.4L377.9 231.1L383.1 229.7L388.4 227.8L392.2 228.7L396.0 231.1L400.5 230.6L401.0 232.2L402.8 233.8L405.8 237.2L408.8 237.9L411.1 238.1L414.1 241.0L416.8 242.0L417.6 241.8L419.4 241.0L420.9 239.4L423.9 238.5L427.7 240.1L430.7 240.3L433.0 236.7L433.7 235.6L436.0 236.3L439.0 237.2L441.3 239.6L444.3 239.2L447.3 240.3L448.8 241.6L451.9 241.8L454.9 241.0L457.9 239.6L460.2 240.1L461.2 240.5L463.0 241.0L465.0 239.4L466.2 236.5L467.7 234.5L470.0 232.7L473.8 232.9L476.8 234.5L477.5 239.0L480.5 241.4L482.4 242.5L483.6 244.9L485.8 244.2L488.4 243.8L487.3 246.1L486.6 249.7L484.0 250.3L482.8 251.2L483.1 253.9L482.2 255.3M378.6 286.8L380.4 285.1L379.8 283.3L377.9 281.9L377.0 280.2L378.3 278.2L377.0 277.2L376.5 273.5L377.0 271.8L377.4 269.5L376.2 267.8L374.4 266.0L371.5 264.7L368.8 264.9L366.5 266.0L365.9 266.2M556.8 203.5L556.8 192.4"/>
<path fill="none" stroke="#fff" stroke-width="1.2" stroke-linejoin="round" d="M98.8 242.3L141.3 242.3L141.3 241.4L143.1 242.9L147.6 244.2L149.9 244.4L151.4 243.8L157.0 246.8L158.0 247.6L158.9 248.7L160.6 250.1L160.4 254.9L159.5 256.9L161.9 255.9L165.7 255.3L165.3 254.3L168.7 253.7L169.9 252.4L172.2 250.8L177.0 250.8L178.2 249.9L179.0 248.0L180.5 245.7L181.9 245.9L182.6 246.6L182.6 249.3L183.8 251.2M72.1 190.2L72.1 215.8"/>
</svg>
<!-- text in page coordinates -->
<div class="t" id="title" style="left:30.7px;top:29.9px;font-size:26px;line-height:26px;font-weight:bold;color:#000;transform:scaleX(0.995);">Regional Insights, 2025</div>
<div class="t" id="total1" style="left:231px;top:93.9px;font-size:20.25px;line-height:20.25px;color:#000;letter-spacing:0.12px;">Total Market Size:</div>
<div class="t" id="total2" style="left:400px;top:93.9px;font-size:20.25px;line-height:20.25px;font-weight:bold;color:#000;letter-spacing:0.65px;transform:scaleX(1.07);">USD 45.21 Bn</div>
<div class="abs" style="left:213px;top:455px;width:12px;height:13px;background:#17335f;"></div>
<div class="t" id="leg1" style="left:231px;top:457.5px;font-size:10px;line-height:10px;font-weight:bold;color:#111;">Dominant Region</div>
<div class="abs" style="left:355px;top:455px;width:12px;height:13px;background:#74c493;"></div>
<div class="t" id="leg2" style="left:373px;top:457.5px;font-size:10px;line-height:10px;font-weight:bold;color:#111;transform:scaleX(0.962);">Fastest Growing Region</div>
<div class="t" id="src" style="left:31px;top:496px;font-size:10px;line-height:10px;color:#111;"><b>Source:</b> Primary Research, Desk Research, Paid subscriptions, CMI Data Repository</div>

<div class="t" id="pct" style="left:708px;top:193.7px;font-size:37px;line-height:37px;font-weight:bold;color:#fff;transform:scaleX(1.016);">42.00%</div>
<div class="t" id="na1" style="left:708.5px;top:233.3px;font-size:15.2px;line-height:15.2px;color:#fff;transform:scaleX(1.008);"><b>North America</b> - Estimated</div>
<div class="t" id="na2" style="left:708.5px;top:253.8px;font-size:15.2px;line-height:15.2px;color:#fff;transform:scaleX(1.022);">Market Revenue Share,</div>
<div class="t" id="na3" style="left:708.5px;top:274.7px;font-size:15.2px;line-height:15.2px;color:#fff;transform:scaleX(1.05);">2025</div>
<div class="abs" style="left:709px;top:302px;width:134px;height:1px;background:#dfe4ee;"></div>
<div class="t" id="h1" style="left:708.5px;top:334.65px;font-size:22.5px;line-height:22.5px;color:#fff;letter-spacing:0.42px;transform:scaleX(1.05);-webkit-text-stroke:0.2px #fff;">Hadoop and</div>
<div class="t" id="h2" style="left:708.5px;top:366.75px;font-size:22.5px;line-height:22.5px;color:#fff;letter-spacing:-0.19px;transform:scaleX(1.05);-webkit-text-stroke:0.2px #fff;">Big Data</div>
<div class="t" id="h3" style="left:708.5px;top:398.85px;font-size:22.5px;line-height:22.5px;color:#fff;letter-spacing:0.12px;transform:scaleX(1.05);-webkit-text-stroke:0.2px #fff;">Analytics</div>
<div class="t" id="h4" style="left:708.5px;top:431.05px;font-size:22.5px;line-height:22.5px;color:#fff;letter-spacing:1.20px;transform:scaleX(1.05);-webkit-text-stroke:0.2px #fff;">Market</div>

<!-- logo -->
<div class="t" id="logoC" style="left:690px;top:21px;font-family:'Liberation Serif',serif;font-size:39px;line-height:39px;color:#1c3a6c;-webkit-text-stroke:0.4px #1c3a6c;">C</div>
<div class="t" id="logoH" style="left:748px;top:26.2px;font-family:'Liberation Serif',serif;font-size:34.3px;line-height:34.3px;color:#1c3a6c;letter-spacing:2.05px;-webkit-text-stroke:0.4px #1c3a6c;">HERENT</div>
<div class="t" id="logoM" style="left:691px;top:57.9px;font-size:14px;line-height:14px;color:#1c3a6c;letter-spacing:5.3px;-webkit-text-stroke:0.2px #1c3a6c;">MARKET INSIGHTS</div>
<svg id="globe" width="30" height="30" viewBox="-15 -15 30 30" style="position:absolute;left:718.4px;top:27.7px">
  <g fill="#8cc63f"><circle cx="-2.9" cy="-2.9" r="2.4"/><circle cx="2.9" cy="-2.9" r="2.4"/><circle cx="-2.9" cy="2.9" r="2.4"/><circle cx="2.9" cy="2.9" r="2.4"/></g>
  <g fill="#3a88b0"><circle cx="-2.9" cy="-8" r="2.1"/><circle cx="2.9" cy="-8" r="2.1"/><circle cx="-2.9" cy="8" r="2.1"/><circle cx="2.9" cy="8" r="2.1"/><circle cx="-8.2" cy="-2.9" r="2.1"/><circle cx="-8.2" cy="2.9" r="2.1"/><circle cx="8" cy="-2.9" r="2.1"/><circle cx="8" cy="2.9" r="2.1"/></g>
  <g fill="#e4147f"><ellipse cx="-7.4" cy="-7.3" rx="2.2" ry="1.25" transform="rotate(-45 -7.4 -7.3)"/><ellipse cx="7.2" cy="-7.3" rx="2.2" ry="1.25" transform="rotate(45 7.2 -7.3)"/><ellipse cx="-7.4" cy="7.1" rx="2.2" ry="1.25" transform="rotate(45 -7.4 7.1)"/><ellipse cx="7.2" cy="7.1" rx="2.2" ry="1.25" transform="rotate(-45 7.2 7.1)"/></g>
  <g fill="#7a3f96"><ellipse cx="-2.6" cy="-11.6" rx="1.8" ry="1.1"/><ellipse cx="2.6" cy="-11.6" rx="1.8" ry="1.1"/><ellipse cx="-2.6" cy="11.4" rx="1.8" ry="1.1"/><ellipse cx="2.6" cy="11.4" rx="1.8" ry="1.1"/><ellipse cx="-11.8" cy="-2.6" rx="1.1" ry="1.8"/><ellipse cx="-11.8" cy="2.6" rx="1.1" ry="1.8"/><ellipse cx="11.2" cy="-2.6" rx="1.1" ry="1.8"/><ellipse cx="11.2" cy="2.6" rx="1.1" ry="1.8"/></g>
</svg>
</body></html>
